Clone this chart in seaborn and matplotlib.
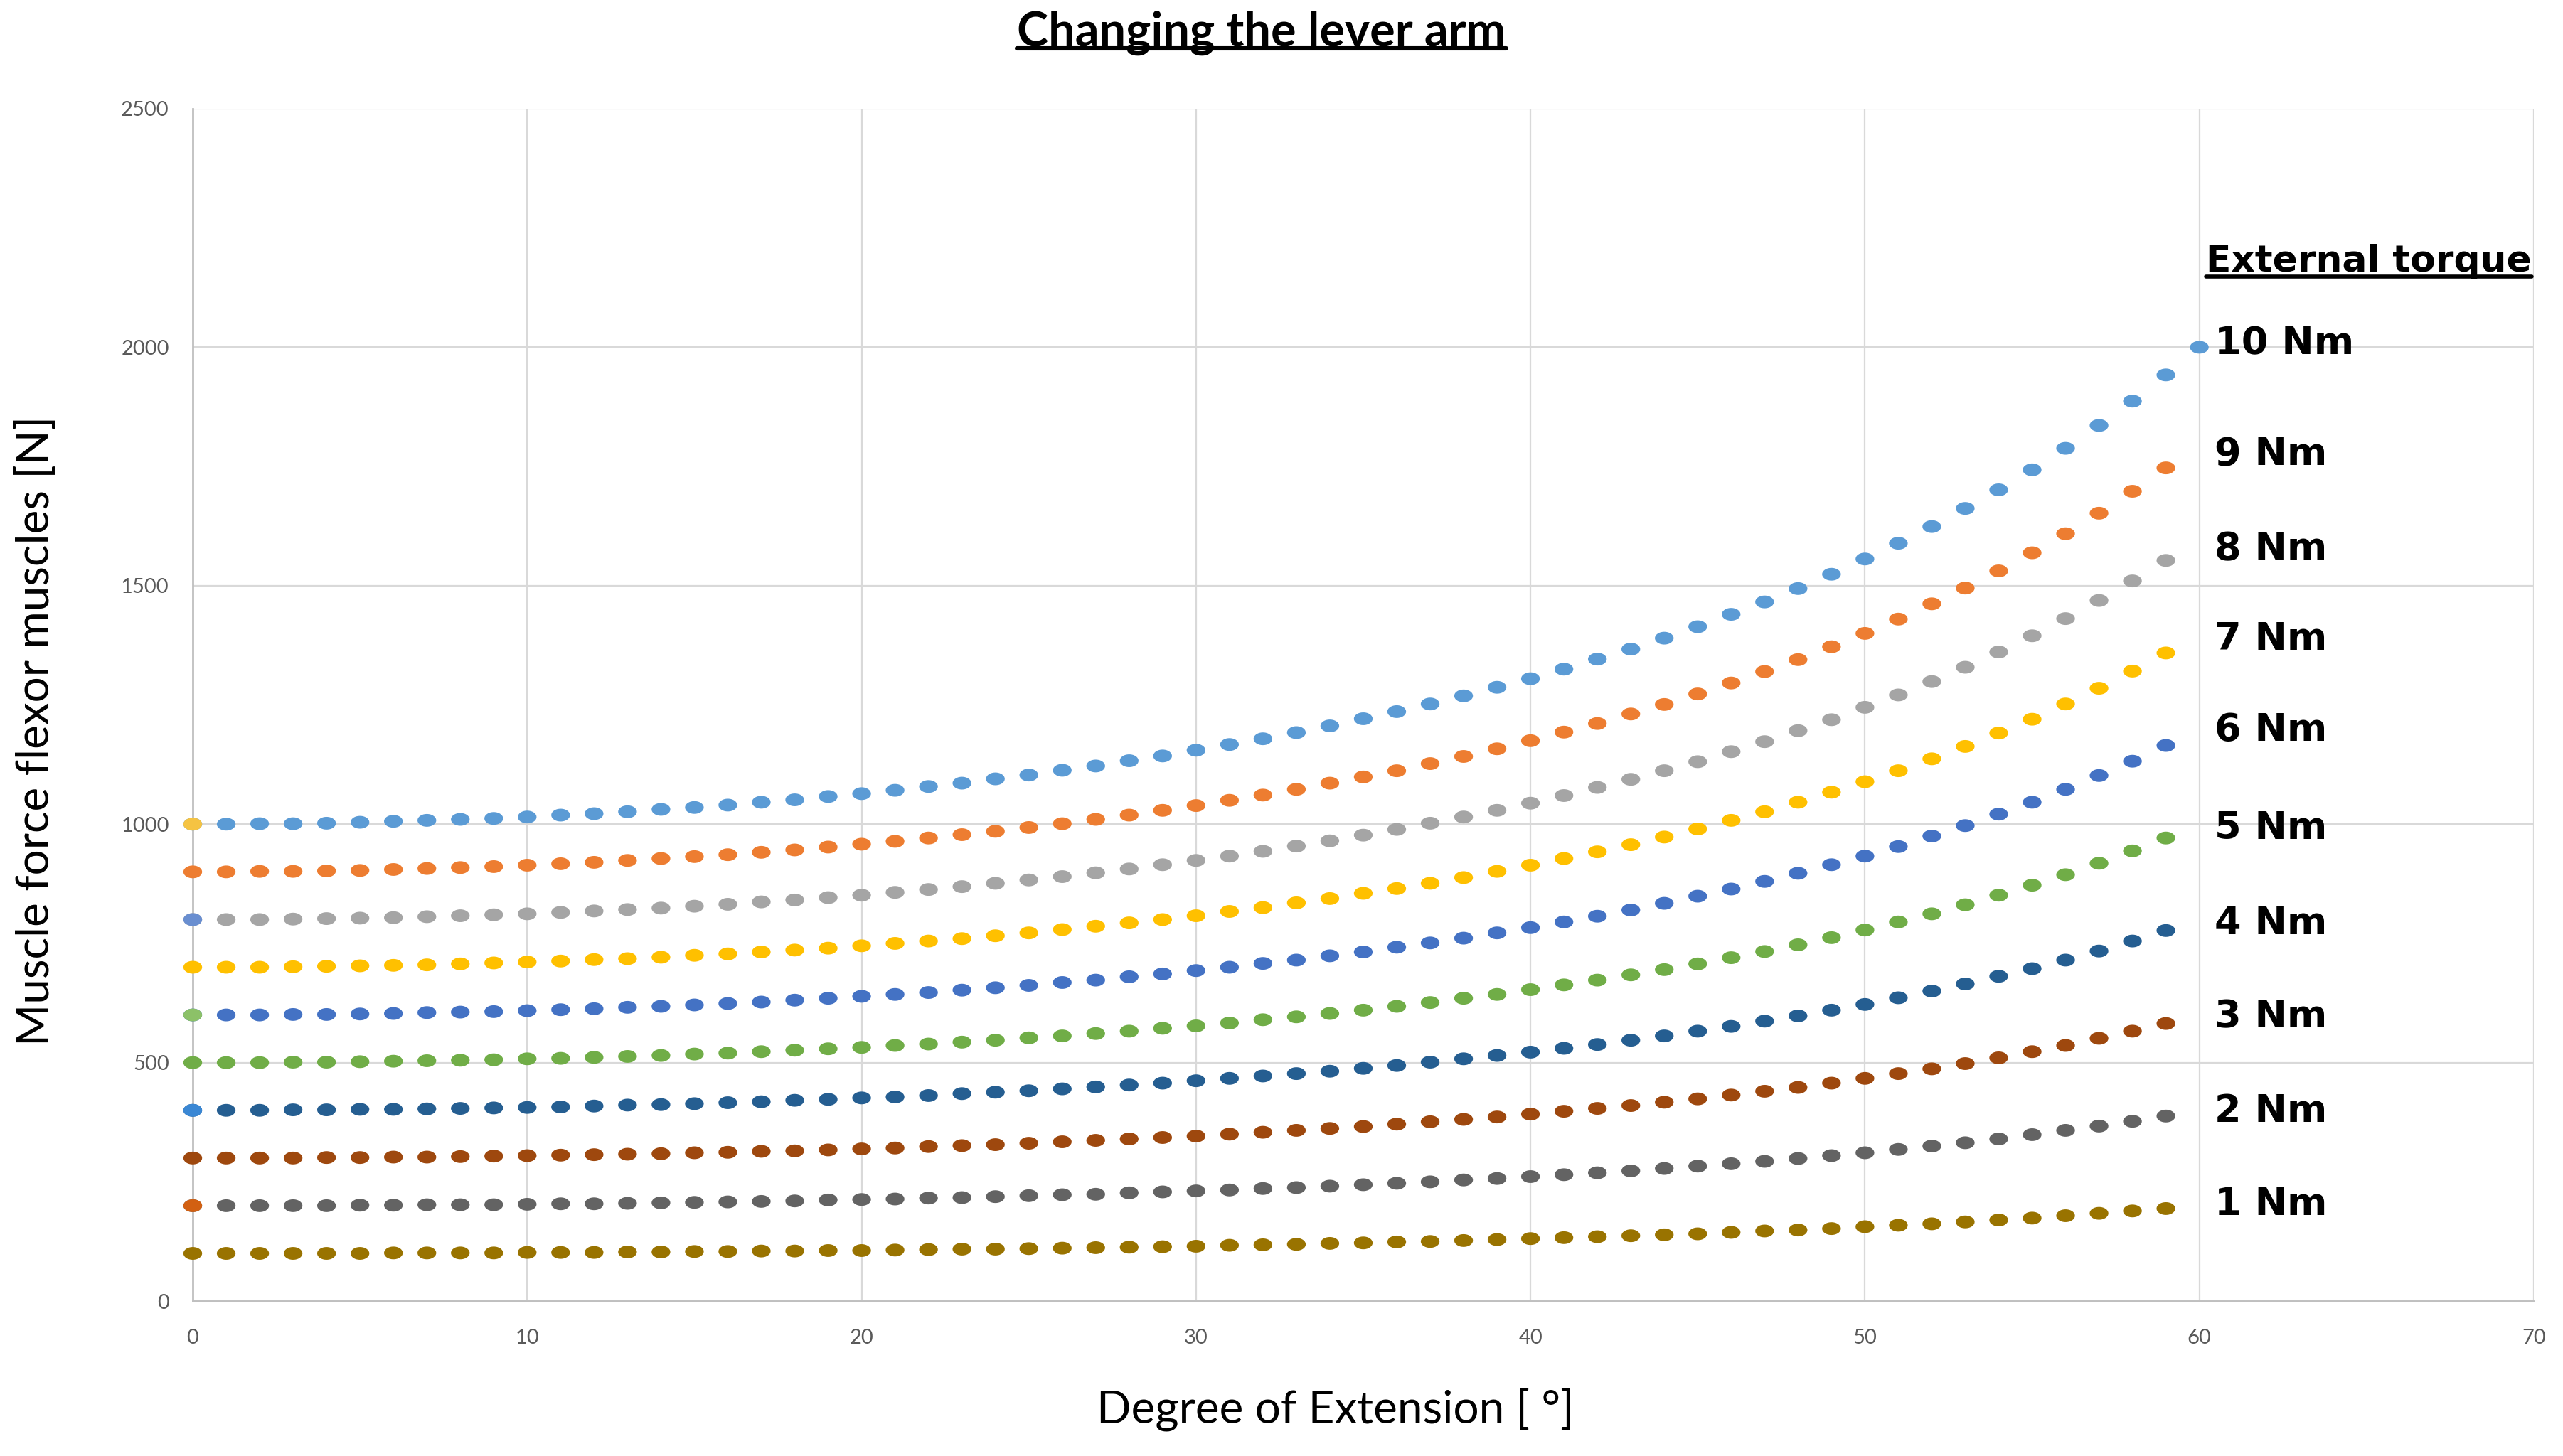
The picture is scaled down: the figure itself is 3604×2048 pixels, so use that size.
import numpy as np
import pandas as pd
import matplotlib
matplotlib.use('Agg')
import matplotlib.pyplot as plt
from matplotlib.lines import Line2D
import seaborn as sns

# Degree of extension (x) and muscle force [N] for each external torque
degrees = list(range(61))
torque_labels = ['10 Nm', '9 Nm', '8 Nm', '7 Nm', '6 Nm', '5 Nm', '4 Nm', '3 Nm', '2 Nm', '1 Nm']

force_10 = [1000, 1000, 1001, 1001, 1002, 1004, 1006, 1008, 1010, 1012, 1015, 1019, 1022, 1026, 1031, 1035,
            1040, 1046, 1051, 1058, 1064, 1071, 1079, 1086, 1095, 1103, 1113, 1122, 1133, 1143, 1155, 1167,
            1179, 1192, 1206, 1221, 1236, 1252, 1269, 1287, 1305, 1325, 1346, 1367, 1390, 1414, 1440, 1466,
            1494, 1524, 1556, 1589, 1624, 1662, 1701, 1743, 1788, 1836, 1887, 1942, 2000]
force_9 = [900, 900, 901, 901, 902, 903, 905, 907, 909, 911, 914, 917, 920, 924, 928, 932, 936, 941, 946, 952,
           958, 964, 971, 978, 985, 993, 1001, 1010, 1019, 1029, 1039, 1050, 1061, 1073, 1086, 1099, 1112, 1127,
           1142, 1158, 1175, 1193, 1211, 1231, 1251, 1273, 1296, 1320, 1345, 1372, 1400, 1430, 1462, 1495, 1531,
           1569, 1609, 1652, 1698, 1747]
force_8 = [800, 800, 800, 801, 802, 803, 804, 806, 808, 810, 812, 815, 818, 821, 824, 828, 832, 837, 841, 846,
           851, 857, 863, 869, 876, 883, 890, 898, 906, 915, 924, 933, 943, 954, 965, 977, 989, 1002, 1015, 1029,
           1044, 1060, 1077, 1094, 1112, 1131, 1152, 1173, 1196, 1219, 1245, 1271, 1299, 1329, 1361, 1395, 1431,
           1469, 1510, 1553]
force_7 = [700, 700, 700, 701, 702, 703, 704, 705, 707, 709, 711, 713, 716, 718, 721, 725, 728, 732, 736, 740,
           745, 750, 755, 760, 766, 772, 779, 786, 793, 800, 808, 817, 825, 835, 844, 855, 865, 876, 888, 901,
           914, 928, 942, 957, 973, 990, 1008, 1026, 1046, 1067, 1089, 1112, 1137, 1163, 1191, 1220, 1252, 1285,
           1321, 1359]
force_6 = [600, 600, 600, 601, 601, 602, 603, 605, 606, 607, 609, 611, 613, 616, 618, 621, 624, 627, 631, 635,
           639, 643, 647, 652, 657, 662, 668, 673, 680, 686, 693, 700, 708, 715, 724, 732, 742, 751, 761, 772,
           783, 795, 807, 820, 834, 849, 864, 880, 897, 915, 933, 953, 975, 997, 1021, 1046, 1073, 1102, 1132, 1165]
force_5 = [500, 500, 500, 501, 501, 502, 503, 504, 505, 506, 508, 509, 511, 513, 515, 518, 520, 523, 526, 529,
           532, 536, 539, 543, 547, 552, 556, 561, 566, 572, 577, 583, 590, 596, 603, 610, 618, 626, 635, 643,
           653, 663, 673, 684, 695, 707, 720, 733, 747, 762, 778, 795, 812, 831, 851, 872, 894, 918, 944, 971]
force_4 = [400, 400, 400, 401, 401, 402, 402, 403, 404, 405, 406, 407, 409, 411, 412, 414, 416, 418, 421, 423,
           426, 428, 431, 435, 438, 441, 445, 449, 453, 457, 462, 467, 472, 477, 482, 488, 494, 501, 508, 515,
           522, 530, 538, 547, 556, 566, 576, 587, 598, 610, 622, 636, 650, 665, 681, 697, 715, 734, 755, 777]
force_3 = [300, 300, 300, 300, 301, 301, 302, 302, 303, 304, 305, 306, 307, 308, 309, 311, 312, 314, 315, 317,
           319, 321, 324, 326, 328, 331, 334, 337, 340, 343, 346, 350, 354, 358, 362, 366, 371, 376, 381, 386,
           392, 398, 404, 410, 417, 424, 432, 440, 448, 457, 467, 477, 487, 498, 510, 523, 536, 551, 566, 582]
force_2 = [200, 200, 200, 200, 200, 201, 201, 202, 202, 202, 203, 204, 204, 205, 206, 207, 208, 209, 210, 212,
           213, 214, 216, 217, 219, 221, 223, 224, 227, 229, 231, 233, 236, 238, 241, 244, 247, 250, 254, 257,
           261, 265, 269, 273, 278, 283, 288, 293, 299, 305, 311, 318, 325, 332, 340, 349, 358, 367, 377, 388]
force_1 = [100, 100, 100, 100, 100, 100, 101, 101, 101, 101, 102, 102, 102, 103, 103, 104, 104, 105, 105, 106,
           106, 107, 108, 109, 109, 110, 111, 112, 113, 114, 115, 117, 118, 119, 121, 122, 124, 125, 127, 129,
           131, 133, 135, 137, 139, 141, 144, 147, 149, 152, 156, 159, 162, 166, 170, 174, 179, 184, 189, 194]

series = [force_10, force_9, force_8, force_7, force_6, force_5, force_4, force_3, force_2, force_1]
colors = ['#5B9BD5', '#ED7D31', '#A5A5A5', '#FFC000', '#4472C4',
          '#70AD47', '#255E91', '#9E480E', '#636363', '#997300']

# extra single points sitting on top at 0 degrees
first_point_y = [1000, 800, 600, 400, 200]
first_point_colors = ['#F5C342', '#698ED0', '#8CC168', '#3A87D4', '#D26012']

# where the torque labels sit on the right
label_y = [2008, 1775, 1577, 1388, 1197, 991, 792, 596, 398, 203]

rows = []
for lab, vals in zip(torque_labels, series):
    for d, f in zip(degrees, vals):
        rows.append((d, f, lab))
df = pd.DataFrame(rows, columns=['degree', 'force', 'torque'])

sns.set_style('white')
plt.rcParams['font.family'] = ['Lato', 'DejaVu Sans']

fig = plt.figure(figsize=(18.02, 10.24), dpi=200)
ax = fig.add_axes([0.0752, 0.1064, 0.9134, 0.8189])

# slightly flattened dot, like the excel markers
t = np.linspace(0, 2 * np.pi, 40)
ellipse = np.column_stack([np.cos(t), 0.68 * np.sin(t)])

sns.scatterplot(data=df, x='degree', y='force', hue='torque', hue_order=torque_labels,
                palette=dict(zip(torque_labels, colors)), marker=ellipse, s=90, linewidth=0,
                legend=False, ax=ax, clip_on=False, zorder=3)
ax.scatter([0] * len(first_point_y), first_point_y, c=first_point_colors, marker=ellipse, s=90,
           linewidth=0, clip_on=False, zorder=4)

ax.set_xlim(0, 70)
ax.set_ylim(0, 2500)
ax.set_xticks(range(0, 71, 10))
ax.set_yticks(range(0, 2501, 500))
ax.set_xlabel('')
ax.set_ylabel('')
ax.grid(True, color='#D9D9D9', linewidth=0.8)
ax.set_axisbelow(True)
for s in ['top', 'right']:
    ax.spines[s].set_visible(False)
for s in ['left', 'bottom']:
    ax.spines[s].set_color('#BFBFBF')
    ax.spines[s].set_linewidth(1.0)
ax.tick_params(axis='both', length=0, labelsize=10.5, labelcolor='#595959')
ax.tick_params(axis='x', pad=14)
ax.tick_params(axis='y', pad=12)

for lab, y in zip(torque_labels, label_y):
    ax.text(60.45, y, lab, fontsize=19.5, fontweight='bold', family='DejaVu Sans',
            va='center', ha='left', color='black')
head = ax.text(60.2, 2180, 'External torque', fontsize=18.7, fontweight='bold', family='DejaVu Sans',
               va='center', ha='left', color='black')

title = fig.text(0.4922, 0.9775, 'Changing the lever arm', fontsize=24, fontweight='bold',
                 ha='center', va='center', color='black')
fig.text(0.0139, 0.498, 'Muscle force flexor muscles [N]', fontsize=23, rotation=90,
         ha='center', va='center', color='black')
fig.text(0.521, 0.032, 'Degree of Extension [ °]', fontsize=23, ha='center', va='center', color='black')

# underline title and legend header
fig.canvas.draw()
renderer = fig.canvas.get_renderer()
W, H = fig.bbox.width, fig.bbox.height
for txt, lw, frac in [(title, 2.2, 0.16), (head, 2.0, 0.08)]:
    bb = txt.get_window_extent(renderer)
    yy = bb.y0 + frac * bb.height
    fig.add_artist(Line2D([bb.x0 / W, bb.x1 / W], [yy / H, yy / H], color='black', linewidth=lw))

fig.savefig('out.png', dpi=200, facecolor='white')
